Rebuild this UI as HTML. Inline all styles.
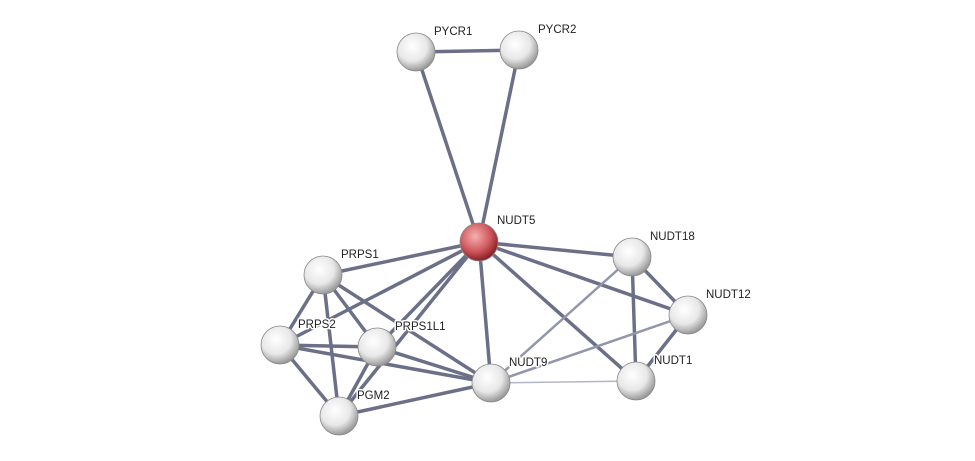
<!DOCTYPE html>
<html><head><style>
html,body{margin:0;padding:0;background:#fff;}
svg{display:block;}
text{font-family:"Liberation Sans",sans-serif;font-size:11.5px;fill:#222;stroke:#fff;stroke-width:3px;paint-order:stroke;stroke-linejoin:round;}
</style></head><body>
<svg width="975" height="461" viewBox="0 0 975 461">
<defs>
<radialGradient id="g" cx="40%" cy="35%" r="65%">
<stop offset="0" stop-color="#ffffff"/><stop offset="0.6" stop-color="#e8e8e8"/><stop offset="1" stop-color="#9a9a9a"/>
</radialGradient>
<radialGradient id="r" cx="40%" cy="35%" r="65%">
<stop offset="0" stop-color="#f4b0b0"/><stop offset="0.6" stop-color="#d05a5e"/><stop offset="1" stop-color="#8a2025"/>
</radialGradient>
</defs>
<g stroke="#6b7088" stroke-width="3.5" stroke-linecap="round">
<line x1="416" y1="52" x2="519" y2="50"/>
<line x1="416" y1="52" x2="479" y2="242"/>
<line x1="519" y1="50" x2="479" y2="242"/>
<line x1="479" y1="242" x2="632" y2="257"/>
<line x1="479" y1="242" x2="688" y2="315"/>
<line x1="479" y1="242" x2="636" y2="381"/>
<line x1="479" y1="242" x2="491" y2="383"/>
<line x1="479" y1="242" x2="323" y2="275"/>
<line x1="479" y1="242" x2="280" y2="345"/>
<line x1="479" y1="242" x2="377" y2="347"/>
<line x1="479" y1="242" x2="339" y2="416"/>
<line x1="632" y1="257" x2="688" y2="315"/>
<line x1="632" y1="257" x2="636" y2="381"/>
<line x1="688" y1="315" x2="636" y2="381"/>
<line x1="323" y1="275" x2="280" y2="345"/>
<line x1="323" y1="275" x2="377" y2="347"/>
<line x1="323" y1="275" x2="339" y2="416"/>
<line x1="323" y1="275" x2="491" y2="383"/>
<line x1="280" y1="345" x2="377" y2="347"/>
<line x1="280" y1="345" x2="339" y2="416"/>
<line x1="280" y1="345" x2="491" y2="383"/>
<line x1="377" y1="347" x2="339" y2="416"/>
<line x1="377" y1="347" x2="491" y2="383"/>
<line x1="339" y1="416" x2="491" y2="383"/>
</g>
<g stroke="#9296ad" stroke-width="2.5">
<line x1="632" y1="257" x2="491" y2="383"/>
<line x1="688" y1="315" x2="491" y2="383"/>
</g>
<line x1="491" y1="383" x2="636" y2="381" stroke="#b4b6c8" stroke-width="1.5"/>
<g stroke="#888" stroke-width="0.8">
<circle cx="416" cy="52" r="19" fill="url(#g)"/>
<circle cx="519" cy="50" r="19" fill="url(#g)"/>
<circle cx="632" cy="257" r="19" fill="url(#g)"/>
<circle cx="688" cy="315" r="19" fill="url(#g)"/>
<circle cx="636" cy="381" r="19" fill="url(#g)"/>
<circle cx="491" cy="383" r="19" fill="url(#g)"/>
<circle cx="323" cy="275" r="19" fill="url(#g)"/>
<circle cx="280" cy="345" r="19" fill="url(#g)"/>
<circle cx="377" cy="347" r="19" fill="url(#g)"/>
<circle cx="339" cy="416" r="19" fill="url(#g)"/>
<circle cx="479" cy="242" r="19" fill="url(#r)"/>
</g>
<text x="434" y="35">PYCR1</text>
<text x="538" y="33">PYCR2</text>
<text x="497" y="224">NUDT5</text>
<text x="650" y="240">NUDT18</text>
<text x="706" y="298">NUDT12</text>
<text x="654" y="364">NUDT1</text>
<text x="509" y="366">NUDT9</text>
<text x="341" y="258">PRPS1</text>
<text x="298" y="328">PRPS2</text>
<text x="395" y="330">PRPS1L1</text>
<text x="357" y="399">PGM2</text>
</svg>
</body></html>
